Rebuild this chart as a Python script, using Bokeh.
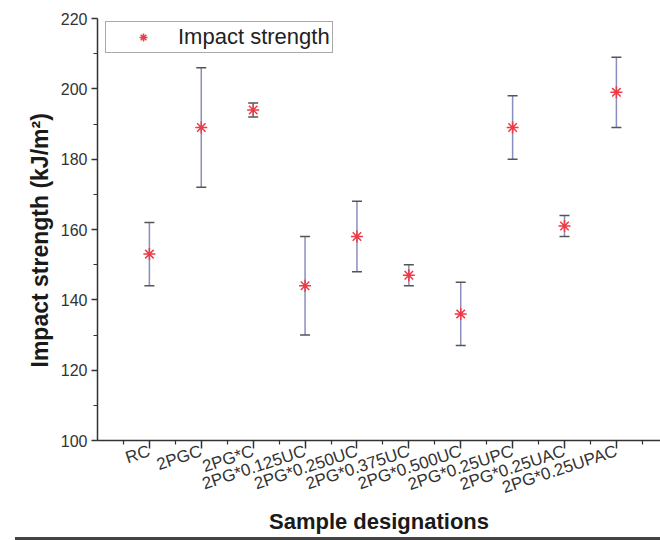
from bokeh.plotting import figure
from bokeh.layouts import column
from bokeh.models import (ColumnDataSource, Range1d, FixedTicker, Whisker, TeeHead,
                          Legend, LegendItem, Title, Div)
from bokeh.embed import file_html
from bokeh.resources import INLINE

categories = ["RC", "2PGC", "2PG*C", "2PG*0.125UC", "2PG*0.250UC", "2PG*0.375UC",
              "2PG*0.500UC", "2PG*0.25UPC", "2PG*0.25UAC", "2PG*0.25UPAC"]
impact = [153, 189, 194, 144, 158, 147, 136, 189, 161, 199]
upper = [162, 206, 196, 158, 168, 150, 145, 198, 164, 209]
lower = [144, 172, 192, 130, 148, 144, 127, 180, 158, 189]
y_ticks = [100, 120, 140, 160, 180, 200, 220]
y_minor = [110, 130, 150, 170, 190, 210]

xs = list(range(1, len(categories) + 1))
src = ColumnDataSource(dict(x=xs, y=impact, up=upper, lo=lower))

FONT = "Liberation Sans"

p = figure(width=660, height=537, output_backend="svg", toolbar_location=None,
           x_range=Range1d(0, 10.85), y_range=Range1d(100, 220),
           min_border_left=97, min_border_right=0, min_border_top=18, min_border_bottom=97)
p.outline_line_color = None
p.grid.visible = False
p.background_fill_color = "white"
p.border_fill_color = "white"

for ax in (p.xaxis[0], p.yaxis[0]):
    ax.axis_line_color = "#333333"
    ax.axis_line_width = 1.5
    ax.major_tick_line_color = "#333333"
    ax.minor_tick_line_color = "#333333"
    ax.major_tick_line_width = 1.5
    ax.minor_tick_line_width = 1.2
    ax.major_tick_in = 0
    ax.minor_tick_in = 0
    ax.major_label_text_font = FONT
    ax.major_label_text_color = "#333333"

p.yaxis[0].ticker = FixedTicker(ticks=y_ticks, minor_ticks=y_minor)
p.yaxis[0].major_tick_out = 6
p.yaxis[0].minor_tick_out = 4
p.yaxis[0].major_label_standoff = 4
p.yaxis[0].major_label_text_font_size = "16px"

p.xaxis[0].ticker = FixedTicker(ticks=xs, minor_ticks=[i + 0.5 for i in range(0, 11)])
p.xaxis[0].major_label_overrides = {i: c for i, c in zip(xs, categories)}
p.xaxis[0].major_label_orientation = 0.32
p.xaxis[0].major_tick_out = 8
p.xaxis[0].minor_tick_out = 4
p.xaxis[0].major_label_standoff = 2
p.xaxis[0].major_label_text_font_size = "17px"
p.xaxis[0].axis_label = "Sample designations"
p.xaxis[0].axis_label_text_font = FONT
p.xaxis[0].axis_label_text_font_size = "22px"
p.xaxis[0].axis_label_text_font_style = "bold"
p.xaxis[0].axis_label_text_color = "#1a1a1a"
p.xaxis[0].axis_label_standoff = 0

wh = Whisker(source=src, base="x", upper="up", lower="lo", dimension="height",
             line_color="#8a8dbf", line_width=1.5,
             upper_head=TeeHead(size=10, line_color="#555555", line_width=1.5),
             lower_head=TeeHead(size=10, line_color="#555555", line_width=1.5))
p.add_layout(wh)

r = p.scatter("x", "y", source=src, marker="asterisk", size=12,
              line_color="#ec3a48", line_width=1.5)

leg = Legend(items=[LegendItem(label="Impact strength", renderers=[r])],
             location=(8, 387), padding=2, glyph_width=70, label_standoff=0,
             label_height=22,
             label_text_font=FONT, label_text_font_size="22px", label_text_color="#222222",
             border_line_color="#555555", border_line_width=1.2,
             background_fill_alpha=1.0, margin=0, spacing=0)
p.add_layout(leg)

ty = Title(text="Impact strength (kJ/m²)", align="left", offset=73,
           text_font=FONT, text_font_size="23px", text_font_style="bold",
           text_color="#1a1a1a")
p.add_layout(ty, "left")

rule = Div(width=645, height=3, margin=(0, 0, 0, 15),
           styles={"background-color": "#444444"})

layout = column(p, rule, spacing=0)

open("out.html", "w").write(file_html(layout, INLINE))
